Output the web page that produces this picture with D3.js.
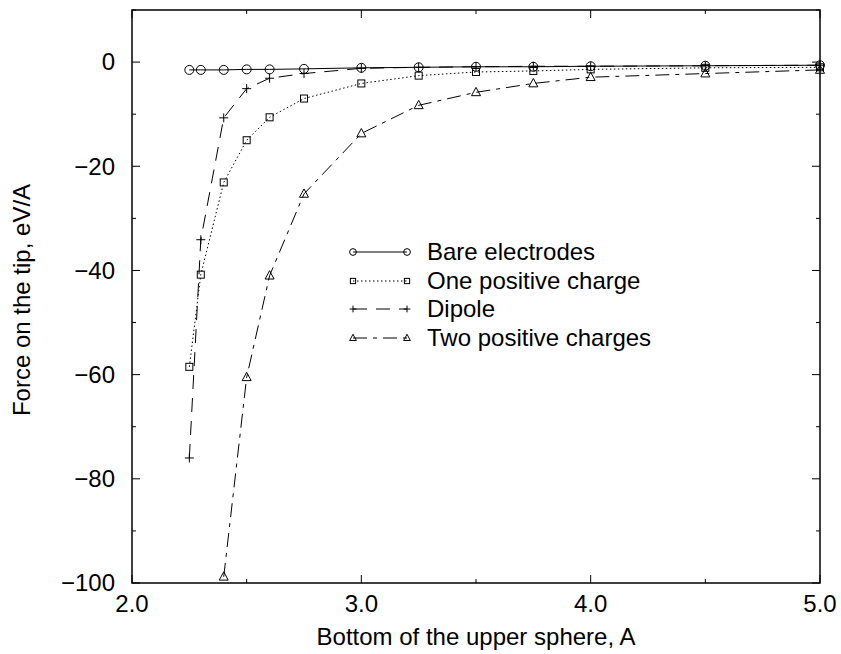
<!DOCTYPE html>
<html>
<head>
<meta charset="utf-8">
<script src="https://cdn.jsdelivr.net/npm/d3@7"></script>
<style>
  html, body { margin: 0; padding: 0; background: #fff; }
  svg text { font-family: "Liberation Sans", Arial, sans-serif; fill: #000; }
</style>
</head>
<body>
<svg id="chart" width="841" height="654"></svg>
<script>
// ---- data ----
const xValues = [2.25, 2.3, 2.4, 2.5, 2.6, 2.75, 3.0, 3.25, 3.5, 3.75, 4.0, 4.5, 5.0];
const bareElectrodes = [-1.5, -1.5, -1.5, -1.4, -1.4, -1.3, -1.1, -1.0, -0.9, -0.9, -0.8, -0.7, -0.6];
const onePositive = [-58.5, -40.8, -23.1, -15.0, -10.6, -7.0, -4.1, -2.6, -1.9, -1.7, -1.4, -1.1, -1.0];
const dipole = [-76.0, -34.1, -10.7, -5.1, -3.1, -2.2, -1.2, -1.0, -0.9, -0.8, -0.8, -0.7, -0.6];
const twoXValues = [2.4, 2.5, 2.6, 2.75, 3.0, 3.25, 3.5, 3.75, 4.0, 4.5, 5.0];
const twoPositive = [-98.8, -60.5, -41.0, -25.3, -13.7, -8.3, -5.8, -4.1, -2.9, -2.2, -1.5];
const seriesNames = ["Bare electrodes", "One positive charge", "Dipole", "Two positive charges"];
const xTickValues = [2.0, 3.0, 4.0, 5.0];
const xMinorTicks = [2.5, 3.5, 4.5];
const yTickValues = [-100, -80, -60, -40, -20, 0];
const yMinorTicks = [-90, -70, -50, -30, -10, 10];
const xTitle = "Bottom of the upper sphere, A";
const yTitle = "Force on the tip, eV/A";

// ---- layout ----
const L = 132, R = 820, T = 10, B = 583;
const FS = 24;
const svg = d3.select("#chart");
const x = d3.scaleLinear().domain([2.0, 5.0]).range([L, R]);
const y = d3.scaleLinear().domain([-100, 10]).range([B, T]);

const series = [
  { name: seriesNames[0], xs: xValues, ys: bareElectrodes, dash: null, sym: "circle" },
  { name: seriesNames[1], xs: xValues, ys: onePositive, dash: "1.5,2.5", sym: "square" },
  { name: seriesNames[2], xs: xValues, ys: dipole, dash: "14,9", sym: "plus" },
  { name: seriesNames[3], xs: twoXValues, ys: twoPositive, dash: "14,6,4,6", sym: "triangle" }
];

// ticks (mirrored, inward)
const tickG = svg.append("g").attr("stroke", "#000").attr("stroke-width", 1);
xTickValues.forEach(v => {
  tickG.append("line").attr("x1", x(v)).attr("x2", x(v)).attr("y1", B).attr("y2", B - 8);
  tickG.append("line").attr("x1", x(v)).attr("x2", x(v)).attr("y1", T).attr("y2", T + 8);
});
xMinorTicks.forEach(v => {
  tickG.append("line").attr("x1", x(v)).attr("x2", x(v)).attr("y1", B).attr("y2", B - 4);
  tickG.append("line").attr("x1", x(v)).attr("x2", x(v)).attr("y1", T).attr("y2", T + 4);
});
yTickValues.forEach(v => {
  tickG.append("line").attr("x1", L).attr("x2", L + 8).attr("y1", y(v)).attr("y2", y(v));
  tickG.append("line").attr("x1", R).attr("x2", R - 8).attr("y1", y(v)).attr("y2", y(v));
});
yMinorTicks.forEach(v => {
  tickG.append("line").attr("x1", L).attr("x2", L + 4).attr("y1", y(v)).attr("y2", y(v));
  tickG.append("line").attr("x1", R).attr("x2", R - 4).attr("y1", y(v)).attr("y2", y(v));
});

// tick labels
svg.append("g").selectAll("text").data(xTickValues).join("text")
  .attr("x", d => x(d)).attr("y", 612)
  .attr("text-anchor", "middle").attr("font-size", FS)
  .text(d => d3.format(".1f")(d));
svg.append("g").selectAll("text").data(yTickValues).join("text")
  .attr("x", 115).attr("y", d => y(d)).attr("dy", "0.35em")
  .attr("text-anchor", "end").attr("font-size", FS)
  .text(d => d < 0 ? "\u2212" + Math.abs(d) : String(d));

// axis titles
svg.append("text").attr("x", (L + R) / 2).attr("y", 645)
  .attr("text-anchor", "middle").attr("font-size", FS).text(xTitle);
svg.append("text").attr("transform", `translate(30,300) rotate(-90)`)
  .attr("text-anchor", "middle").attr("font-size", FS).text(yTitle);

// symbols
function drawSym(g, sym, cx, cy, s) {
  if (sym === "circle") {
    g.append("circle").attr("cx", cx).attr("cy", cy).attr("r", 4.5 * s);
  } else if (sym === "square") {
    const h = 3.5 * s;
    g.append("rect").attr("x", cx - h).attr("y", cy - h).attr("width", 2 * h).attr("height", 2 * h);
  } else if (sym === "plus") {
    const h = 4.5 * s;
    g.append("path").attr("d", `M${cx - h},${cy}H${cx + h}M${cx},${cy - h}V${cy + h}`);
  } else if (sym === "triangle") {
    const h = 4.5 * s;
    g.append("path").attr("d", `M${cx},${cy - h * 1.1}L${cx + h},${cy + h * 0.75}L${cx - h},${cy + h * 0.75}Z`);
  }
}

const line = d3.line().x(d => x(d[0])).y(d => y(d[1]));
const plotG = svg.append("g").attr("fill", "none").attr("stroke", "#000").attr("stroke-width", 1);
series.forEach(s => {
  const pts = s.xs.map((v, i) => [v, s.ys[i]]);
  plotG.append("path").datum(pts).attr("d", line)
    .attr("stroke-dasharray", s.dash);
  const sg = plotG.append("g");
  pts.forEach(p => drawSym(sg, s.sym, x(p[0]), y(p[1]), 1));
});

// legend
const legY = [252, 281, 309, 338];
const legG = svg.append("g");
series.forEach((s, i) => {
  const gy = legY[i];
  const g = legG.append("g").attr("fill", "none").attr("stroke", "#000").attr("stroke-width", 1);
  g.append("line").attr("x1", 353).attr("x2", 407).attr("y1", gy).attr("y2", gy)
    .attr("stroke-dasharray", s.dash);
  drawSym(g, s.sym, 353, gy, 0.75);
  drawSym(g, s.sym, 407, gy, 0.75);
  legG.append("text").attr("x", 427).attr("y", gy).attr("dy", "0.35em")
    .attr("font-size", FS).text(s.name);
});

// frame
svg.append("rect").attr("x", L).attr("y", T).attr("width", R - L).attr("height", B - T)
  .attr("fill", "none").attr("stroke", "#000").attr("stroke-width", 1.5);
</script>
</body>
</html>
